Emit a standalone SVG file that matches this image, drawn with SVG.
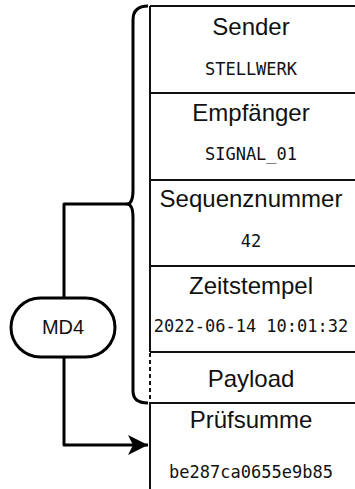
<svg xmlns="http://www.w3.org/2000/svg" width="355" height="489" viewBox="0 0 355 489">
  <style>
    .title { font-family: "Liberation Sans", Arial, sans-serif; font-size: 24px; fill: #111; text-anchor: middle; }
    .value { font-family: "DejaVu Sans Mono", "Liberation Mono", monospace; font-size: 17px; fill: #111; text-anchor: middle; }
    .grid { stroke: #111; stroke-width: 2; fill: none; }
    .dash { stroke: #111; stroke-width: 2; fill: none; stroke-dasharray: 4 3; }
    .thick { stroke: #000; stroke-width: 3; fill: none; stroke-linejoin: round; }
    .pill { stroke: #000; stroke-width: 3; fill: #fff; }
    .label { font-family: "Liberation Sans", Arial, sans-serif; font-size: 20px; fill: #111; text-anchor: middle; }
  </style>
  <defs>
    <marker id="arrow" viewBox="0 0 20 20" refX="20" refY="10" markerWidth="20" markerHeight="20" markerUnits="userSpaceOnUse" orient="auto">
      <path d="M0,0 L20,10 L0,20 L5,10 Z" fill="#000"/>
    </marker>
  </defs>
  <rect width="355" height="489" fill="#fff"/>

  <!-- message fields -->
  <g id="sender">
    <line class="grid" x1="150" y1="6" x2="355" y2="6"/>
    <line class="grid" x1="150" y1="6" x2="150" y2="93"/>
    <text class="title" x="251" y="35">Sender</text>
    <text class="value" x="251" y="75">STELLWERK</text>
  </g>
  <g id="empfaenger">
    <line class="grid" x1="150" y1="93" x2="355" y2="93"/>
    <line class="grid" x1="150" y1="93" x2="150" y2="180"/>
    <text class="title" x="251" y="121">Empfänger</text>
    <text class="value" x="251" y="160">SIGNAL_01</text>
  </g>
  <g id="sequenznummer">
    <line class="grid" x1="150" y1="180" x2="355" y2="180"/>
    <line class="grid" x1="150" y1="180" x2="150" y2="266"/>
    <text class="title" x="251" y="207">Sequenznummer</text>
    <text class="value" x="251" y="247">42</text>
  </g>
  <g id="zeitstempel">
    <line class="grid" x1="150" y1="266" x2="355" y2="266"/>
    <line class="grid" x1="150" y1="266" x2="150" y2="352"/>
    <text class="title" x="251" y="294">Zeitstempel</text>
    <text class="value" x="251" y="332">2022-06-14 10:01:32</text>
  </g>
  <g id="payload">
    <line class="grid" x1="150" y1="352" x2="355" y2="352"/>
    <line class="dash" x1="150" y1="353" x2="150" y2="403"/>
    <text class="title" x="251" y="387">Payload</text>
  </g>
  <g id="pruefsumme">
    <line class="grid" x1="150" y1="403" x2="355" y2="403"/>
    <line class="grid" x1="150" y1="403" x2="150" y2="489"/>
    <text class="title" x="251" y="428">Prüfsumme</text>
    <text class="value" x="251" y="478">be287ca0655e9b85</text>
  </g>

  <!-- hash function -->
  <g id="md4">
    <rect class="pill" x="11" y="298" width="104" height="59" rx="29.5" ry="29.5"/>
    <text class="label" x="63" y="334">MD4</text>
  </g>

  <!-- brace and connectors -->
  <g id="connectors">
    <path class="thick" d="M148,6 Q133,6 133,20 L133,190 Q133,204 127,204 Q133,204 133,218 L133,391 Q133,403 148,403"/>
    <path class="thick" d="M64,298 L64,204 L127,204"/>
    <path class="thick" d="M64,357 L64,445 L148,445" marker-end="url(#arrow)"/>
  </g>
</svg>
